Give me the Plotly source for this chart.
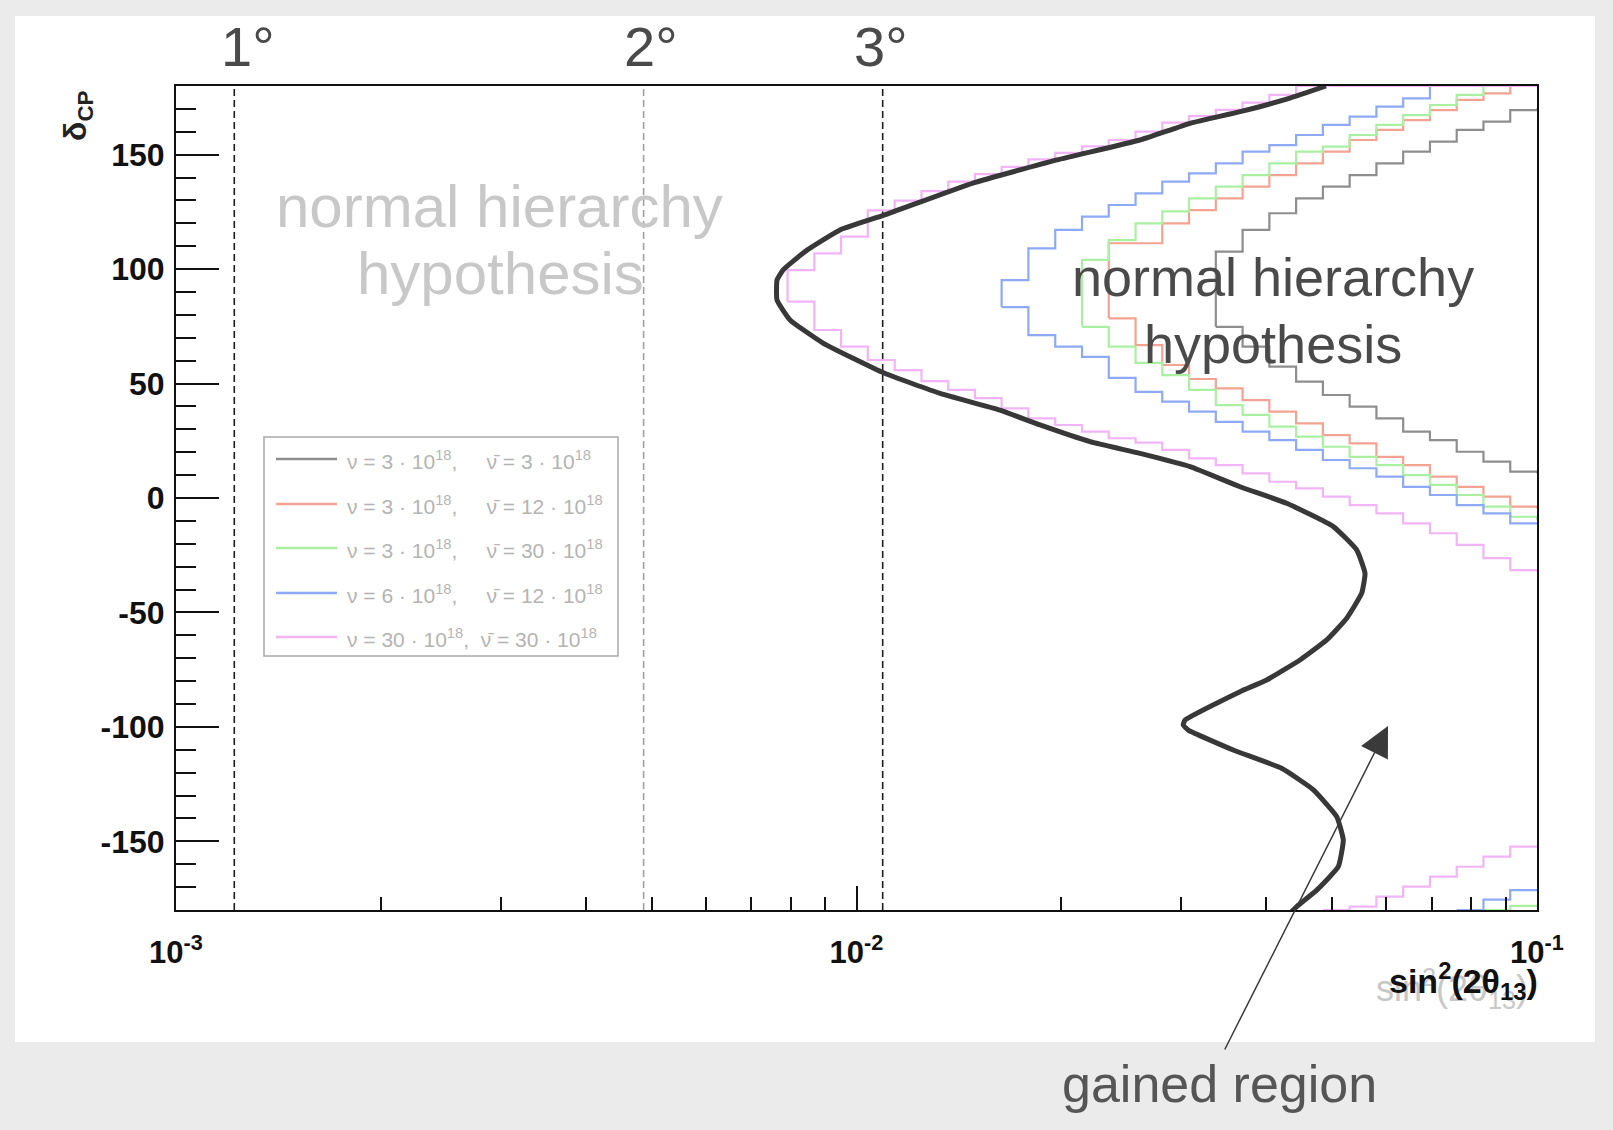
import numpy as np
import plotly.graph_objects as go

FONT = "Liberation Sans, Arial, Helvetica, sans-serif"

# ------------------------------------------------------------------ data
THETA13_DEG = [1, 2, 3]                      # reference angles (dashed lines)
DEG_LABELS = ["1°", "2°", "3°"]

# sin^2(2theta13) bin edges of the stepped (histogram) contours
X_EDGES = [0.1000, 0.09134, 0.08343, 0.07621, 0.06961, 0.06358, 0.05808, 0.05305,
           0.04846, 0.04426, 0.04043, 0.03693, 0.03373, 0.03081, 0.02814, 0.02571,
           0.02348, 0.02145, 0.01959, 0.01789, 0.01634, 0.01493, 0.01364, 0.01246,
           0.01138, 0.01039, 0.00949, 0.00867, 0.00792]

# thick black contour (sin^2 2theta13, delta_CP)
BLACK_X = [0.04897, 0.04335, 0.03661, 0.03092, 0.02610, 0.01971, 0.01483, 0.01098,
           0.009458, 0.008458, 0.007798, 0.007642, 0.007642, 0.007986, 0.008929, 0.01098,
           0.01327, 0.01625, 0.01861, 0.02204, 0.02610, 0.03092, 0.03661, 0.04287,
           0.05020, 0.05433, 0.05588, 0.05526, 0.05253, 0.04909, 0.04484, 0.04007,
           0.03661, 0.03039, 0.03021, 0.03073, 0.03578, 0.04214, 0.04692, 0.05078,
           0.05192, 0.05105, 0.04746, 0.04435, 0.04360]
BLACK_D = [180, 174.7, 168.8, 163.7, 156.4, 147.7, 137.6, 123.6,
           117.1, 108.3, 99.6, 95.2, 86.5, 77.8, 67.7, 54.6,
           45.7, 38.4, 31.9, 24.6, 19.5, 13.7, 4.9, -2.3,
           -12.5, -22.7, -32.9, -41.6, -52.5, -62.0, -70.8, -79.5,
           -84.6, -97.0, -99.2, -101.4, -110.1, -118.1, -127.5, -139.2,
           -149.4, -161.1, -171.3, -178.5, -180.7]

# stepped contours: bin-edge index and delta_CP at each step
GREY_UP_K = [12, 12, 11, 10, 9, 8, 7, 6, 5, 4, 3, 2, 1, 0]
GREY_UP_D = [74.8, 107.6, 117.1, 124.4, 130.9, 136.0, 141.1, 146.2, 151.3, 155.7, 160.8, 164.4, 169.5, 170.2]
GREY_LO_K = [12, 11, 10, 9, 8, 7, 6, 5, 4, 3, 2, 1, 0]
GREY_LO_D = [74.8, 66.1, 57.4, 50.8, 45.0, 39.9, 34.8, 29.0, 25.3, 20.2, 15.9, 11.5, 10.8]

RED_UP_K = [16, 16, 15, 14, 13, 12, 11, 10, 9, 8, 7, 6, 5, 4, 3, 2, 1]
RED_UP_D = [78.5, 111.3, 111.3, 120.0, 125.8, 130.9, 136.0, 141.1, 146.2, 151.3, 156.4, 160.8, 165.1, 169.5, 173.9, 176.8, 182]
RED_LO_K = [16, 15, 14, 13, 12, 11, 10, 9, 8, 7, 6, 5, 4, 3, 2, 1, 0]
RED_LO_D = [78.5, 66.8, 58.1, 52.0, 47.9, 42.8, 37.7, 32.6, 27.5, 23.9, 18.0, 14.4, 9.3, 4.9, 0.6, -3.8, -4.5]

GREEN_UP_K = [17, 17, 16, 15, 14, 13, 12, 11, 10, 9, 8, 7, 6, 5, 4, 3, 2]
GREEN_UP_D = [74.8, 104.0, 112.7, 120.0, 125.2, 130.9, 136.0, 141.1, 146.2, 151.3, 153.5, 158.6, 163.0, 167.3, 171.7, 176.1, 182]
GREEN_LO_K = [17, 16, 15, 14, 13, 12, 11, 10, 9, 8, 7, 6, 5, 4, 3, 2, 1, 0]
GREEN_LO_D = [74.8, 66.1, 59.0, 53.7, 47.2, 40.6, 36.3, 31.2, 26.8, 22.4, 18.0, 14.4, 10.0, 5.7, 1.3, -3.8, -8.2, -9.5]
GREEN_BOT_K = [2, 1, 0]
GREEN_BOT_D = [-180, -178.2, -177.6]

BLUE_UP_K = [20, 20, 19, 18, 17, 16, 15, 14, 13, 12, 11, 10, 9, 8, 7, 6, 5, 4]
BLUE_UP_D = [83.4, 95.2, 109.1, 117.1, 122.9, 128.0, 133.1, 138.2, 141.8, 146.2, 151.3, 154.2, 158.6, 163.0, 166.6, 171.0, 174.6, 182]
BLUE_LO_K = [20, 19, 18, 17, 16, 15, 14, 13, 12, 11, 10, 9, 8, 7, 6, 5, 4, 3, 2, 1, 0]
BLUE_LO_D = [83.4, 71.2, 66.1, 61.7, 52.5, 46.4, 42.1, 37.7, 33.3, 29.0, 25.3, 21.0, 16.6, 13.0, 9.3, 4.9, 1.3, -3.1, -6.7, -11.1, -11.5]
BLUE_BOT_K = [3, 2, 1, 0]
BLUE_BOT_D = [-180, -175.5, -171.3, -170.8]

PINK_UP_K = [28, 28, 27, 26, 25, 24, 23, 22, 21, 20, 19, 18, 17, 16, 15, 14, 13, 12, 11, 10, 9, 0]
PINK_UP_D = [85.8, 99.6, 106.9, 114.2, 125.7, 129.9, 134.1, 138.2, 141.5, 144.7, 147.9, 150.8, 153.6, 156.4,
             160.1, 164.0, 166.8, 169.6, 172.7, 176.1, 180, 180]
PINK_LO_K = [28, 27, 26, 25, 24, 23, 22, 21, 20, 19, 18, 17, 16, 15, 14, 13, 12, 11, 10, 9, 8, 7, 6, 5, 4, 3, 2, 1, 0]
PINK_LO_D = [85.8, 73.4, 66.1, 60.3, 55.9, 51.1, 47.2, 43.6, 39.2, 34.8, 31.9, 29.0, 26.1, 24.2, 21.0, 17.3,
             14.4, 10.8, 7.1, 4.2, 0.6, -3.1, -6.7, -11.1, -15.4, -20.5, -26.3, -31.5, -32.2]
PINK_BOT_K = [8, 7, 6, 5, 4, 3, 2, 1, 0]
PINK_BOT_D = [-180, -178.5, -174.2, -169.8, -165.4, -161.1, -156.7, -152.3, -151.8]

NB = "\u00a0"
NUBAR = "\u03bd\u0304"


def leg_label(nu, nubar, gap):
    return (f"\u03bd{NB}={NB}{nu}{NB}·{NB}10<sup>18</sup>,{NB * gap}"
            f"{NUBAR}{NB}={NB}{nubar}{NB}·{NB}10<sup>18</sup>")


LEGEND_NU = ["3", "3", "3", "6", "30"]
LEGEND_NUBAR = ["3", "12", "30", "12", "30"]
LEGEND_GAP = [5, 5, 5, 5, 2]
LEGEND_LABELS = [leg_label(a, b, g) for a, b, g in zip(LEGEND_NU, LEGEND_NUBAR, LEGEND_GAP)]
COLORS = ["#8e8e8e", "#f4a392", "#aaf0a2", "#8ea9f6", "#f2b4f7"]

# ------------------------------------------------------------------ geometry helpers
W, H = 1613, 1130
L, R, T, B = 176, 76, 86, 220
PW, PH = W - L - R, H - T - B


def px(x):
    return (x - L) / PW


def py(y):
    return (H - B - y) / PH


def edges(ks):
    return [X_EDGES[k] for k in ks]


fig = go.Figure()

# dashed reference lines at theta13 = 1, 2, 3 degrees
deg_x = np.sin(np.radians(2 * np.array(THETA13_DEG))) ** 2
dash_cols = ["#1e1e1e", "#a0a0a0", "#1e1e1e"]
for v, c in zip(deg_x, dash_cols):
    fig.add_trace(go.Scatter(x=[v, v], y=[-180, 180], mode="lines",
                             line=dict(color=c, width=1.6, dash="7px,4px"),
                             showlegend=False, hoverinfo="skip"))

curves = [
    (COLORS[0], [(GREY_UP_K, GREY_UP_D), (GREY_LO_K, GREY_LO_D)]),
    (COLORS[1], [(RED_UP_K, RED_UP_D), (RED_LO_K, RED_LO_D)]),
    (COLORS[2], [(GREEN_UP_K, GREEN_UP_D), (GREEN_LO_K, GREEN_LO_D), (GREEN_BOT_K, GREEN_BOT_D)]),
    (COLORS[3], [(BLUE_UP_K, BLUE_UP_D), (BLUE_LO_K, BLUE_LO_D), (BLUE_BOT_K, BLUE_BOT_D)]),
    (COLORS[4], [(PINK_UP_K, PINK_UP_D), (PINK_LO_K, PINK_LO_D), (PINK_BOT_K, PINK_BOT_D)]),
]
for (col, parts), name in zip(curves, LEGEND_LABELS):
    for ks, ds in parts:
        fig.add_trace(go.Scatter(x=edges(ks), y=ds, mode="lines",
                                 line=dict(color=col, width=2.2, shape="hv"),
                                 name=name, legendgroup=name, showlegend=False))

fig.add_trace(go.Scatter(x=BLACK_X, y=BLACK_D, mode="lines",
                         line=dict(color="#383838", width=5, shape="spline", smoothing=0.4),
                         showlegend=False))

# ------------------------------------------------------------------ shapes (slide panel, legend box)
shapes = [
    dict(type="rect", xref="paper", yref="paper", x0=px(15), x1=px(1595), y0=py(1042), y1=py(16),
         fillcolor="white", line=dict(width=0), layer="below"),
    dict(type="rect", xref="paper", yref="paper", x0=px(264), x1=px(618), y0=py(656), y1=py(437),
         fillcolor="white", line=dict(color="#a9a9a9", width=1.5), layer="above"),
]


def note(x, y, text, size, color, xanchor="center", yanchor="middle", **kw):
    font = dict(family=FONT, size=size, color=color)
    if "weight" in kw:
        font["weight"] = kw.pop("weight")
    return dict(xref="paper", yref="paper", x=px(x), y=py(y), text=text, showarrow=False,
                xanchor=xanchor, yanchor=yanchor, font=font, **kw)


annotations = []
leg_y = [459, 504, 548, 593, 637]
for col, lab, yc in zip(COLORS, LEGEND_LABELS, leg_y):
    shapes.append(dict(type="line", xref="paper", yref="paper", x0=px(276), x1=px(337),
                       y0=py(yc), y1=py(yc), line=dict(color=col, width=2.5), layer="above"))
    annotations.append(note(345, yc + 1, lab, 21, "#b4b4b4", xanchor="left"))

annotations += [
    note(499, 206, "normal hierarchy", 60, "#c8c8c8"),
    note(500, 273, "hypothesis", 60, "#c8c8c8"),
    note(1273, 277, "normal hierarchy", 54, "#4a4a4a"),
    note(1273, 344, "hypothesis", 54, "#4a4a4a"),
    note(1219, 1084, "gained region", 52, "#555555"),
    note(77, 115, "δ<sub>CP</sub>", 32, "#222", textangle=-90, weight="bold"),
    note(1530, 988, "sin<sup>2</sup>(2θ<sub>13</sub>)", 36, "#c8c8c8", xanchor="right"),
    note(1540, 981, "sin<sup>2</sup>(2θ<sub>13</sub>)", 34, "#111", xanchor="right", weight="bold"),
    # arrow pointing into the gained region
    dict(xref="paper", yref="paper", x=px(1388), y=py(726), ax=-164, ay=325, text="",
         showarrow=True, arrowhead=2, arrowsize=4, arrowwidth=1.5, arrowcolor="#3a3a3a"),
]
for v, lab, sh in zip(deg_x, DEG_LABELS, [14, 7, -2]):
    annotations.append(dict(xref="x", yref="paper", x=float(np.log10(v)), y=py(46), text=lab,
                            showarrow=False, xshift=sh, xanchor="center", yanchor="middle",
                            font=dict(family=FONT, size=56, color="#4a4a4a")))

minor_x = [m * 10.0 ** e for e in (-3, -2) for m in range(2, 10)]

fig.update_layout(
    width=W, height=H,
    margin=dict(l=L, r=R, t=T, b=B),
    paper_bgcolor="#ebebeb", plot_bgcolor="white",
    showlegend=False,
    shapes=shapes, annotations=annotations,
    xaxis=dict(type="log", range=[-3, -1], showgrid=False, zeroline=False,
               showline=True, linecolor="#111", linewidth=2, mirror=True,
               ticks="inside", ticklen=24, tickwidth=1.5, tickcolor="#111",
               tickvals=[1e-3, 1e-2, 1e-1],
               ticktext=["10<sup>-3</sup>", "10<sup>-2</sup>", "10<sup>-1</sup>"],
               tickfont=dict(family=FONT, size=31, color="#111", weight="bold"),
               ticklabelstandoff=14,
               minor=dict(tickvals=minor_x, ticks="inside", ticklen=13, tickwidth=1.5,
                          tickcolor="#111", showgrid=False)),
    yaxis=dict(range=[-180, 180], showgrid=False, zeroline=False,
               showline=True, linecolor="#111", linewidth=2, mirror=True,
               ticks="inside", ticklen=43, tickwidth=1.5, tickcolor="#111",
               tickvals=[-150, -100, -50, 0, 50, 100, 150],
               ticktext=["-150", "-100", "-50", "0", "50", "100", "150"],
               tickfont=dict(family=FONT, size=32, color="#111", weight="bold"),
               ticklabelstandoff=3,
               minor=dict(dtick=10, tick0=0, ticks="inside", ticklen=20, tickwidth=1.5,
                          tickcolor="#111", showgrid=False)),
)

fig.write_html("out.html")
